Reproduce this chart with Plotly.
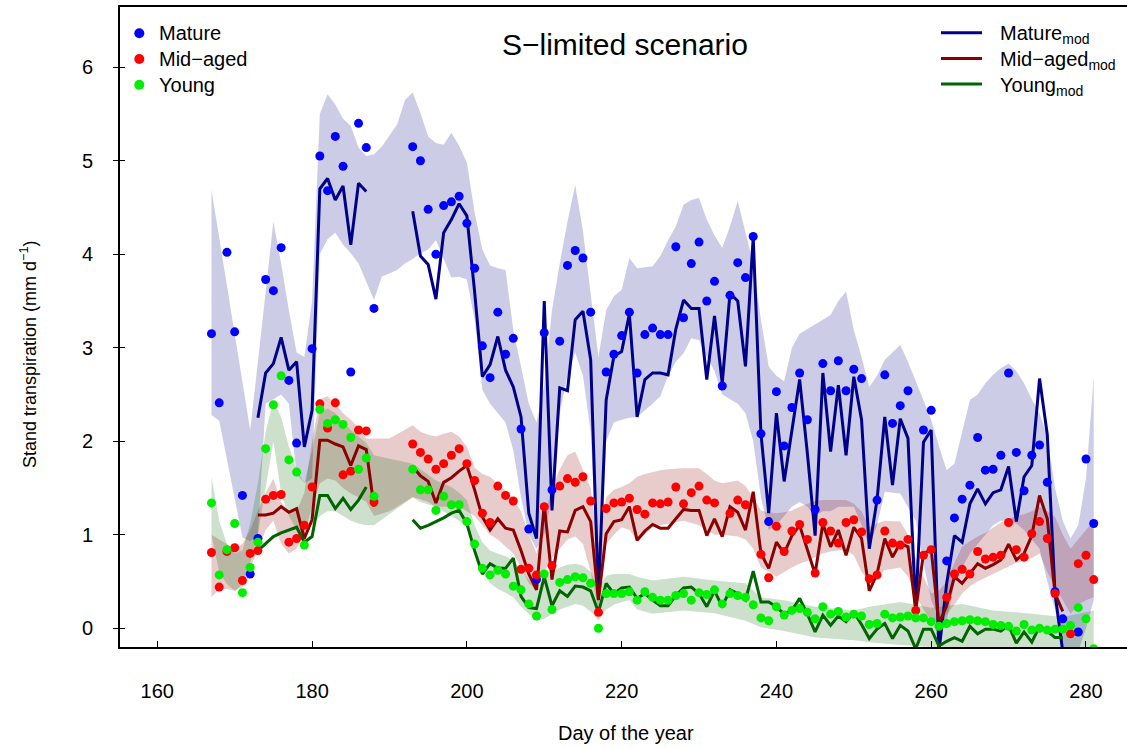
import plotly.graph_objects as go

# ---------------- data ----------------
obs_days = list(range(167, 282))
mod_days = list(range(173, 278))
N = None

mature_obs = [3.15, 2.41, 4.02, 3.17, 1.42, 0.58, 0.96, 3.73, 3.61, 4.07, 2.65, 1.98, N, 2.99,
              5.05, 4.68, 5.26, 4.94, 2.74, 5.40, 5.14, 3.42, N, N, N, N,
              5.15, 5.00, 4.48, 4.00, 4.52, 4.56, 4.62, 4.33, 3.85, 3.02, 2.68, 3.38, 2.93, 3.10,
              2.13, 1.06, 0.52, 3.16, 1.48, 3.07, 3.88, 4.04, 3.96, 3.38, N, 2.74, 2.93, 3.13,
              3.38, 2.73, 3.14, 3.21, 3.14, 3.14, 4.08, 3.32, 3.90, 4.13, 3.50, 3.71, 2.59, 3.56,
              3.91, 3.75, 4.19, 2.08, 1.14, 2.53, 1.95, 2.36, 2.73, 2.23, 1.27, 2.83, 2.54, 2.86,
              2.54, 2.77, 2.67, N, 1.37, 2.71, 2.19, 2.38, 2.54, N, 2.12, 2.33, N, 0.72,
              1.18, 1.38, 1.53, 2.04, 1.69, 1.70, 1.85, 2.73, 1.88, 1.47, 1.85, 1.96, 1.56, 0.39,
              0.10, N, -0.04, 1.81, 1.12]

midaged_obs = [0.81, 0.44, 0.82, 0.86, 0.51, 0.80, 0.83, 1.38, 1.42, 1.43, 0.92, 0.96, 1.10, 1.51,
               2.40, 2.14, 2.41, 1.64, 1.68, 2.12, 2.11, 1.35, N, N, N, N,
               1.97, 1.88, 1.81, 1.70, 1.76, 1.85, 1.92, 1.76, 1.58, 1.23, 1.13, 1.52, 1.42, 1.36,
               0.63, 0.64, 0.57, 1.30, 0.67, 1.52, 1.60, 1.56, 1.62, 1.36, 0.17, 1.28, 1.34, 1.35,
               1.39, 1.27, 1.22, 1.34, 1.33, 1.35, 1.51, 1.33, 1.45, 1.52, 1.37, 1.34, N, 1.23,
               1.37, 1.32, N, 0.79, 0.54, 1.09, 0.82, 1.04, 1.11, 0.95, 0.59, 1.13, 1.04, 0.91,
               1.13, 1.16, 1.03, 0.53, 0.57, 1.04, 0.91, 0.89, 0.95, 0.19, 0.78, 0.84, N, 0.33,
               0.58, 0.63, 0.58, 0.82, 0.74, 0.76, 0.78, 1.13, 0.84, 0.76, 1.01, 1.14, 0.96, 0.37,
               N, -0.06, 0.69, 0.78, 0.52]

young_obs = [1.34, 0.57, 0.84, 1.12, 0.38, 0.65, 0.92, 1.92, 2.39, 2.70, 1.80, 1.67, 0.89, N,
             2.34, 2.19, 2.23, 2.18, 2.04, 1.70, 1.82, 1.41, N, N, N, N,
             1.70, 1.48, 1.48, 1.26, 1.41, 1.32, 1.32, 1.14, 0.90, 0.64, 0.57, 0.62, 0.58, 0.45,
             0.41, 0.26, 0.13, 0.58, 0.20, 0.49, 0.52, 0.55, 0.54, 0.48, 0.00, 0.37, 0.37, 0.37,
             0.39, 0.30, 0.39, 0.33, 0.30, 0.30, 0.35, 0.37, 0.30, 0.38, 0.36, 0.41, 0.26, 0.37,
             0.35, 0.33, 0.25, 0.11, 0.08, 0.23, 0.14, 0.19, 0.21, 0.17, 0.10, 0.23, 0.15, 0.18,
             0.12, 0.15, 0.13, 0.04, 0.05, 0.15, 0.11, 0.12, 0.13, 0.11, 0.11, 0.07, 0.02, 0.05,
             0.07, 0.08, 0.09, 0.08, 0.07, 0.04, 0.03, 0.02, -0.03, 0.04, -0.02, 0.00, -0.02, -0.01,
             -0.01, 0.03, 0.22, 0.10, -0.22]

mature_mod = [2.25, 2.73, 2.83, 3.11, 2.76, 2.85, 1.94, 2.33, 4.70, 4.81, 4.58, 4.73, 4.10, 4.76,
              4.67, N, N, N, N, N,
              4.46, 3.98, 3.89, 3.52, 4.23, 4.37, 4.54, 4.41, 3.60, 2.69, 2.82, 3.12, 2.76, 2.58,
              2.26, 1.23, 0.96, 3.50, 1.26, 2.57, 2.54, 3.30, 3.39, 2.87, 0.33, 2.44, 2.91, 2.96,
              3.36, 2.26, 2.66, 2.73, 2.73, 2.71, 3.20, 3.51, 3.42, 3.42, 2.66, 3.34, 2.62, 3.58,
              3.50, 2.80, 4.18, 2.08, 1.23, 2.30, 1.57, 2.12, 2.66, 1.87, 0.99, 2.73, 1.89, 2.60,
              1.85, 2.69, 2.23, 0.85, 1.37, 2.26, 1.53, 2.24, 2.03, 0.19, 1.99, 2.12, -0.25, 0.48,
              0.99, 0.92, 1.33, 1.49, 1.33, 1.45, 1.48, 1.73, 1.14, 1.62, 1.74, 2.67, 2.07, 0.37,
              -0.25]

midaged_mod = [1.21, 1.21, 1.23, 1.30, 1.24, 1.28, 0.96, 1.16, 2.01, 2.01, 1.97, 1.94, 1.74, 1.95,
               1.91, 1.30, N, N, N, N,
               1.73, 1.63, 1.57, 1.34, 1.56, 1.61, 1.68, 1.74, 1.48, 1.19, 1.05, 1.17, 1.07, 1.05,
               0.83, 0.58, 0.41, 1.32, 0.52, 1.04, 1.03, 1.26, 1.30, 1.14, 0.30, 1.01, 1.14, 1.16,
               1.30, 0.94, 1.04, 1.11, 1.07, 1.07, 1.17, 1.27, 1.26, 1.26, 0.99, 1.17, 0.98, 1.30,
               1.24, 1.05, 1.46, 0.80, 0.64, 0.92, 0.80, 0.99, 1.10, 0.83, 0.58, 1.12, 0.87, 1.05,
               0.78, 1.08, 0.96, 0.40, 0.58, 0.96, 0.76, 0.91, 0.87, 0.19, 0.80, 0.84, 0.05, 0.24,
               0.55, 0.48, 0.58, 0.69, 0.64, 0.68, 0.73, 0.90, 0.73, 0.80, 0.99, 1.42, 1.17, 0.37,
               0.18]

young_mod = [0.83, 0.90, 0.98, 1.02, 1.05, 1.08, 0.92, 0.98, 1.42, 1.42, 1.28, 1.39, 1.27, 1.37,
             1.51, N, N, N, N, N,
             1.16, 1.07, 1.10, 1.14, 1.18, 1.23, 1.26, 1.12, 0.83, 0.58, 0.69, 0.64, 0.64, 0.75,
             0.34, 0.22, 0.21, 0.55, 0.24, 0.40, 0.34, 0.45, 0.44, 0.40, 0.17, 0.48, 0.37, 0.43,
             0.44, 0.32, 0.37, 0.30, 0.24, 0.24, 0.35, 0.43, 0.44, 0.37, 0.23, 0.40, 0.23, 0.41,
             0.37, 0.30, 0.61, 0.28, 0.28, 0.23, 0.15, 0.19, 0.32, 0.15, -0.04, 0.14, 0.03, 0.13,
             0.07, 0.17, 0.04, -0.11, -0.01, 0.05, -0.11, 0.03, -0.03, -0.22, -0.01, -0.01, -0.19, -0.14,
             -0.10, -0.14, 0.02, -0.06, -0.01, -0.01, -0.03, 0.03, -0.16, -0.04, -0.15, 0.02, -0.03, -0.10,
             -0.10]

# uncertainty envelopes: day, lower, upper
mature_band_days = [167, 168, 169, 170, 171, 172, 173, 174, 175, 176, 177, 178, 179, 180, 181, 182,
                    183, 184, 185, 186, 187, 188, 189, 191, 192, 193, 194, 195, 196, 197, 198, 199,
                    200, 201, 202, 203, 204, 205, 206, 207, 208, 209, 210, 211, 212, 213, 214, 215,
                    216, 217, 218, 219, 220, 221, 222, 223, 224, 225, 226, 227, 228, 229, 230, 231,
                    232, 233, 234, 235, 236, 237, 238, 239, 240, 241, 242, 243, 244, 245, 246, 247,
                    248, 249, 250, 251, 252, 253, 254, 255, 256, 257, 258, 259, 260, 261, 262, 263,
                    264, 265, 266, 267, 268, 269, 270, 271, 272, 273, 274, 275, 276, 277, 278, 279,
                    280, 281]
mature_band_lo = [2.28, 2.22, 1.80, 1.40, 0.97, 0.93, 1.00, 2.40, 2.45, 2.50, 2.40, 1.65, 1.55, 1.60,
                  4.00, 4.16, 4.23, 4.10, 4.01, 3.90, 3.70, 3.51, 3.76, 3.83, 3.90, 3.95, 4.01, 4.05,
                  4.15, 3.95, 3.75, 3.76, 3.73, 3.30, 2.55, 2.40, 2.30, 2.20, 1.90, 1.40, 1.00, 0.85,
                  1.00, 1.40, 2.30, 2.70, 2.95, 2.70, 2.10, 0.30, 2.00, 2.20, 2.23, 2.25, 2.26, 2.33,
                  2.40, 2.48, 2.70, 2.85, 2.94, 3.10, 3.08, 2.90, 2.75, 2.50, 2.45, 2.40, 2.30, 2.00,
                  1.40, 1.05, 1.10, 1.20, 1.30, 1.35, 1.30, 1.20, 1.25, 1.25, 1.30, 1.30, 1.30, 1.10,
                  0.87, 1.10, 1.46, 1.45, 1.44, 1.30, 1.15, 0.70, 0.30, 0.10, 0.08, 0.48, 0.65, 0.80,
                  0.90, 1.00, 1.10, 1.15, 1.15, 1.12, 1.05, 0.95, 0.85, 0.50, 0.20, -0.20, -0.25, -0.25,
                  0.00, 0.30]
mature_band_hi = [4.69, 4.18, 3.66, 3.15, 2.63, 2.12, 2.85, 3.58, 4.35, 3.90, 3.40, 2.95, 2.90, 3.50,
                  5.50, 5.71, 5.60, 5.45, 5.37, 5.14, 5.05, 5.07, 5.15, 5.39, 5.65, 5.73, 5.51, 5.26,
                  5.19, 5.17, 5.30, 5.16, 4.98, 4.45, 4.05, 3.88, 3.85, 3.83, 3.19, 2.80, 2.40, 2.20,
                  2.60, 3.40, 3.90, 4.35, 4.74, 4.25, 3.60, 2.90, 3.40, 3.55, 3.62, 3.96, 3.85, 3.86,
                  3.87, 3.98, 4.15, 4.30, 4.53, 4.58, 4.60, 4.37, 4.20, 4.07, 4.30, 4.57, 4.23, 3.90,
                  3.30, 2.80, 2.70, 2.64, 3.00, 3.15, 3.20, 3.25, 3.30, 3.35, 3.50, 3.60, 3.19, 2.90,
                  2.58, 2.70, 2.87, 2.95, 3.03, 2.85, 2.65, 2.45, 2.23, 1.95, 1.69, 1.76, 2.10, 2.44,
                  2.50, 2.62, 2.71, 2.78, 2.83, 2.75, 2.62, 2.45, 2.30, 2.05, 1.50, 1.15, 0.96, 1.10,
                  1.60, 2.69]

midaged_band_days = [167, 168, 169, 170, 171, 172, 173, 174, 175, 176, 177, 178, 179, 180, 181, 182,
                     183, 184, 185, 186, 187, 188, 190, 193, 194, 195, 196, 197, 198, 199, 200, 201,
                     202, 203, 204, 205, 206, 207, 208, 209, 210, 211, 212, 213, 214, 215, 216, 217,
                     218, 219, 220, 221, 222, 223, 224, 225, 226, 228, 230, 231, 232, 233, 235, 236,
                     237, 238, 239, 240, 241, 242, 243, 244, 245, 246, 247, 248, 249, 250, 251, 252,
                     253, 254, 256, 257, 258, 259, 260, 261, 262, 263, 264, 265, 266, 267, 268, 269,
                     270, 271, 272, 273, 274, 275, 276, 277, 278, 279, 280, 281]
midaged_band_lo = [0.33, 0.42, 0.42, 0.40, 0.44, 0.65, 0.83, 1.05, 1.15, 0.90, 0.80, 0.85, 1.00, 1.30,
                   1.55, 1.60, 1.58, 1.50, 1.44, 1.40, 1.35, 1.20, 1.25, 1.40, 1.38, 1.35, 1.30, 1.30,
                   1.30, 1.30, 1.25, 1.20, 1.10, 1.00, 0.95, 0.87, 0.80, 0.65, 0.48, 0.41, 0.60, 0.75,
                   0.85, 0.95, 0.98, 0.90, 0.60, 0.19, 0.90, 1.00, 1.08, 1.05, 0.94, 1.00, 1.08, 1.10,
                   1.12, 1.15, 1.10, 1.05, 1.00, 1.00, 0.98, 0.95, 0.85, 0.65, 0.60, 0.55, 0.60, 0.65,
                   0.69, 0.72, 0.76, 0.80, 0.82, 0.83, 0.83, 0.78, 0.60, 0.50, 0.55, 0.62, 0.65, 0.55,
                   0.35, 0.20, 0.08, 0.08, 0.15, 0.25, 0.37, 0.45, 0.50, 0.54, 0.58, 0.62, 0.66, 0.70,
                   0.72, 0.75, 0.80, 0.60, 0.44, 0.30, 0.155, 0.25, 0.30, 0.33]
midaged_band_hi = [1.00, 0.95, 0.90, 0.85, 0.90, 1.05, 1.26, 1.45, 1.60, 1.35, 1.25, 1.25, 1.45, 2.00,
                   2.45, 2.48, 2.40, 2.30, 2.23, 2.15, 2.03, 2.03, 2.03, 2.17, 2.10, 2.07, 2.05, 2.08,
                   2.10, 2.05, 1.94, 1.72, 1.65, 1.62, 1.55, 1.47, 1.38, 1.25, 1.00, 0.80, 1.20, 1.50,
                   1.70, 1.85, 1.89, 1.70, 1.50, 0.90, 1.40, 1.48, 1.51, 1.55, 1.62, 1.65, 1.67, 1.69,
                   1.70, 1.71, 1.71, 1.65, 1.58, 1.55, 1.58, 1.52, 1.40, 1.26, 1.24, 1.23, 1.24, 1.26,
                   1.30, 1.33, 1.36, 1.37, 1.37, 1.37, 1.37, 1.33, 1.25, 1.08, 1.12, 1.15, 1.14, 1.00,
                   0.75, 0.55, 0.37, 0.40, 0.50, 0.70, 0.87, 0.93, 0.98, 1.02, 1.08, 1.13, 1.17, 1.20,
                   1.22, 1.25, 1.30, 1.25, 1.19, 1.00, 0.85, 0.95, 1.05, 1.15]

young_band_days = [167, 168, 169, 170, 171, 172, 173, 174, 175, 176, 177, 178, 179, 180, 181, 182,
                   183, 184, 185, 186, 187, 188, 193, 194, 196, 198, 199, 200, 201, 202, 203, 204,
                   205, 206, 207, 208, 209, 210, 211, 212, 213, 214, 215, 216, 217, 218, 219, 220,
                   221, 222, 224, 228, 232, 236, 238, 241, 245, 250, 252, 256, 260, 264, 268, 273,
                   277, 281]
young_band_lo = [1.00, 0.60, 0.47, 0.40, 0.47, 0.70, 1.00, 1.50, 2.00, 1.44, 1.20, 1.05, 1.00, 1.10,
                 1.20, 1.25, 1.25, 1.20, 1.15, 1.12, 1.10, 1.10, 1.40, 1.35, 1.30, 1.20, 1.15, 1.08,
                 0.85, 0.60, 0.48, 0.42, 0.38, 0.33, 0.23, 0.15, 0.08, 0.10, 0.15, 0.20, 0.23, 0.26,
                 0.24, 0.18, 0.08, 0.20, 0.25, 0.28, 0.30, 0.20, 0.155, 0.19, 0.16, 0.08, 0.01, -0.03,
                 -0.10, -0.13, -0.15, -0.18, -0.20, -0.25, -0.25, -0.25, -0.25, -0.25]
young_band_hi = [1.62, 1.15, 0.90, 0.80, 0.83, 1.12, 1.55, 2.10, 2.44, 2.26, 1.94, 1.70, 1.55, 1.90,
                 2.30, 2.35, 2.30, 2.20, 2.12, 2.05, 1.98, 1.85, 1.76, 1.70, 1.58, 1.51, 1.45, 1.37,
                 1.10, 0.92, 0.83, 0.80, 0.77, 0.73, 0.63, 0.52, 0.44, 0.52, 0.60, 0.65, 0.68, 0.69,
                 0.67, 0.60, 0.44, 0.56, 0.58, 0.58, 0.58, 0.55, 0.51, 0.55, 0.51, 0.48, 0.33, 0.30,
                 0.23, 0.19, 0.23, 0.28, 0.22, 0.26, 0.19, 0.155, 0.12, 0.19]

x_ticks = [160, 180, 200, 220, 240, 260, 280]
y_ticks = [0, 1, 2, 3, 4, 5, 6]

# ---------------- styling ----------------
FONT = "Liberation Sans, Arial, Helvetica, sans-serif"
W, H = 1127, 748
ML, MR, MT, MB = 120, 0, 7, 101
X_RANGE = [155.18, 285.30]
Y_RANGE = [-0.201, 6.644]

groups = [
    dict(name="Mature", obs=mature_obs, mod=mature_mod,
         bd=mature_band_days, lo=mature_band_lo, hi=mature_band_hi,
         dot="#0000FF", line="#00008B", fill="rgba(0,0,128,0.2)"),
    dict(name="Mid\u2212aged", obs=midaged_obs, mod=midaged_mod,
         bd=midaged_band_days, lo=midaged_band_lo, hi=midaged_band_hi,
         dot="#FF0000", line="#8B0000", fill="rgba(139,0,0,0.2)"),
    dict(name="Young", obs=young_obs, mod=young_mod,
         bd=young_band_days, lo=young_band_lo, hi=young_band_hi,
         dot="#00EE00", line="#006400", fill="rgba(0,100,0,0.2)"),
]

fig = go.Figure()

# shaded envelopes
for g in groups:
    fig.add_trace(go.Scatter(
        x=g["bd"] + g["bd"][::-1],
        y=g["hi"] + g["lo"][::-1],
        fill="toself", fillcolor=g["fill"], line=dict(width=0),
        mode="lines", hoverinfo="skip", showlegend=False))

# modelled series
for g in groups:
    fig.add_trace(go.Scatter(
        x=mod_days, y=g["mod"], mode="lines", connectgaps=False,
        line=dict(color=g["line"], width=3), name=g["name"] + " mod", showlegend=False))

# observed series
for g in groups:
    fig.add_trace(go.Scatter(
        x=obs_days, y=g["obs"], mode="markers",
        marker=dict(color=g["dot"], size=9, line=dict(width=0)),
        name=g["name"], showlegend=False))

# second y axis only carries the inward half of the y tick marks
fig.add_trace(go.Scatter(x=[None], y=[None], yaxis="y2", showlegend=False, hoverinfo="skip"))


def px(x):
    return (x - ML) / (W - ML - MR)


def py(y):
    return (H - MB - y) / (H - MT - MB)


shapes = []
annotations = []

# legend for observations (top left)
for i, g in enumerate(groups):
    cy = 33.3 + i * 25.7
    r = 5
    shapes.append(dict(type="circle", xref="paper", yref="paper",
                       x0=px(139.3 - r), x1=px(139.3 + r), y0=py(cy + r), y1=py(cy - r),
                       fillcolor=g["dot"], line=dict(width=0)))
    annotations.append(dict(xref="paper", yref="paper", x=px(157), y=py(cy),
                            xanchor="left", yanchor="middle", showarrow=False,
                            text=g["name"], font=dict(family=FONT, size=20, color="black")))

# legend for model runs (top right)
for i, g in enumerate(groups):
    cy = 32.7 + i * 25.7
    shapes.append(dict(type="line", xref="paper", yref="paper",
                       x0=px(941), x1=px(982), y0=py(cy), y1=py(cy),
                       line=dict(color=g["line"], width=3)))
    annotations.append(dict(xref="paper", yref="paper", x=px(998), y=py(cy + 2),
                            xanchor="left", yanchor="middle", showarrow=False,
                            text=g["name"] + "<sub>mod</sub>",
                            font=dict(family=FONT, size=20, color="black")))

# title and axis titles
annotations.append(dict(xref="paper", yref="paper", x=px(625), y=py(45),
                        xanchor="center", yanchor="middle", showarrow=False,
                        text="S\u2212limited scenario", font=dict(family=FONT, size=30, color="black")))
annotations.append(dict(xref="paper", yref="paper", x=px(626), y=py(733),
                        xanchor="center", yanchor="middle", showarrow=False,
                        text="Day of the year", font=dict(family=FONT, size=20, color="black")))
annotations.append(dict(xref="paper", yref="paper", x=px(28), y=py(355),
                        xanchor="center", yanchor="middle", showarrow=False, textangle=-90,
                        text="Stand transpiration (mm d<sup>\u22121</sup>)",
                        font=dict(family=FONT, size=18, color="black")))

fig.update_layout(
    width=W, height=H,
    margin=dict(l=ML, r=MR, t=MT, b=MB),
    paper_bgcolor="white", plot_bgcolor="white",
    showlegend=False,
    shapes=shapes, annotations=annotations,
    xaxis=dict(range=X_RANGE, tickvals=x_ticks, ticktext=[str(v) for v in x_ticks],
               ticks="inside", ticklen=6, tickwidth=1.3, tickcolor="black",
               showline=True, linecolor="black", linewidth=1.6, mirror=True,
               showgrid=False, zeroline=False, ticklabelstandoff=25,
               tickfont=dict(family=FONT, size=20, color="black")),
    yaxis=dict(range=Y_RANGE, tickvals=y_ticks, ticktext=[str(v) for v in y_ticks],
               ticks="outside", ticklen=5, tickwidth=1.3, tickcolor="black",
               showline=True, linecolor="black", linewidth=1.6, mirror=False,
               showgrid=False, zeroline=False, ticklabelstandoff=16,
               tickfont=dict(family=FONT, size=20, color="black")),
    yaxis2=dict(range=Y_RANGE, overlaying="y", side="left", matches="y",
                tickvals=y_ticks, ticks="inside", ticklen=5, tickwidth=1.3, tickcolor="black",
                showticklabels=False, showline=False, showgrid=False, zeroline=False),
)

fig.write_html("out.html")
